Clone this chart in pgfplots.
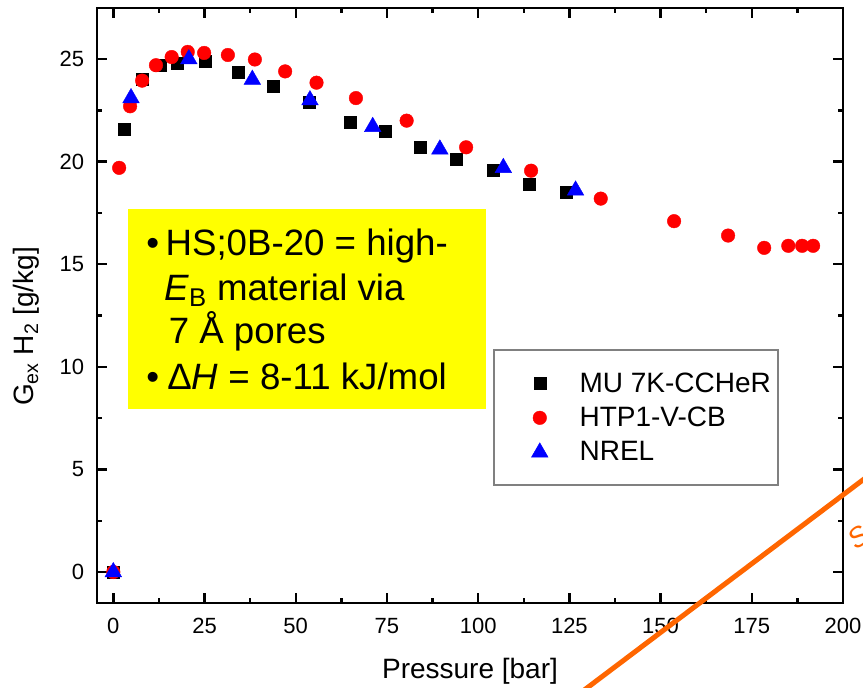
\documentclass[border=0pt]{standalone}
\usepackage{fontspec}
\setmainfont{Liberation Sans}
\usepackage{pgfplots}
\pgfplotsset{compat=1.18}

\definecolor{ptred}{RGB}{255,0,0}
\definecolor{ptblue}{RGB}{0,0,255}
\definecolor{slideorange}{RGB}{255,102,0}
\definecolor{noteyellow}{RGB}{255,255,0}
\newcommand\notefont{\fontsize{27.5}{33}\selectfont}

\begin{document}
\begin{tikzpicture}
\useasboundingbox (0,0) rectangle (647.25pt,515.25pt);

\begin{axis}[
  at={(72.75pt,63pt)}, anchor=south west,
  width=559.5pt, height=446.25pt, scale only axis,
  xmin=-4.47, xmax=200, ymin=-1.51, ymax=27.49,
  xtick={0,25,...,200}, ytick={0,5,...,25},
  minor x tick num=1, minor y tick num=1,
  tick align=inside,
  major tick length=7.5pt, minor tick length=3.75pt,
  axis line style={line width=2.2pt},
  tick style={line width=1.8pt, black},
  /pgf/number format/assume math mode=true,
  tick label style={font=\fontsize{16.5}{16.5}\selectfont, inner sep=0pt},
  xticklabel style={anchor=base, yshift=-22.7pt},
  yticklabel style={anchor=east, xshift=-9.4pt},
  xlabel={Pressure [bar]},
  ylabel={G\textsubscript{ex} H\textsubscript{2} [g/kg]},
  label style={font=\fontsize{21}{21}\selectfont, inner sep=0pt},
  xlabel style={at={(axis description cs:0.5,0)}, anchor=base, yshift=-56.5pt},
  ylabel style={at={(axis description cs:-0.0942,0.4647)}, anchor=center},
  legend cell align=left,
  legend image code/.code={\draw[#1] plot coordinates {(0pt,0pt)};},
  legend style={draw=none, fill=none, at={(0.5824,0.3983)}, anchor=north west,
    inner sep=0pt, outer sep=0pt, row sep=0pt, column sep=23.6pt,
    font=\fontsize{21}{21}\selectfont,
    nodes={inner sep=0pt, minimum height=25.9pt}},
]

% MU 7K-CCHeR
\addplot[only marks, mark=square*, mark size=4.5pt, black, mark options={line width=0.3pt}]
coordinates {
 (0,0) (2.9,21.6) (7.8,24.0) (12.8,24.7) (17.5,24.8) (25.1,24.9)
 (34.3,24.35) (43.8,23.7) (53.6,22.9) (64.9,21.9) (74.5,21.5)
 (84.0,20.7) (93.9,20.1) (104.0,19.6) (113.9,18.9) (124.1,18.5)
};
\addlegendentry{MU 7K-CCHeR}

% HTP1-V-CB
\addplot[only marks, mark=*, mark size=5.1pt, ptred, mark options={line width=0.3pt}]
coordinates {
 (0,0) (1.6,19.7) (4.6,22.7) (7.9,23.95) (11.7,24.7) (16.0,25.1)
 (20.4,25.35) (24.9,25.3) (31.4,25.2) (38.8,24.98) (47.1,24.4)
 (55.7,23.85) (66.5,23.1) (80.4,22.0) (96.7,20.7) (114.5,19.56)
 (133.6,18.2) (153.7,17.1) (168.5,16.4) (178.4,15.8) (185.0,15.9)
 (188.8,15.9) (191.8,15.9)
};
\addlegendentry{HTP1-V-CB}

% NREL
\addplot[only marks, mark=triangle*, mark size=7.2pt, ptblue, mark options={line width=0.3pt}]
coordinates {
 (0,0) (4.85,23.1) (20.7,25.0) (38.1,24.0) (53.9,23.0) (71.1,21.7)
 (89.5,20.6) (106.9,19.7) (126.7,18.6)
};
\addlegendentry{NREL}
\end{axis}

% legend frame
\draw[gray, line width=1.1pt] (370.5pt,252.75pt) rectangle (583.5pt,151.5pt);

% highlighted note
\fill[noteyellow] (96.2pt,358.3pt) rectangle (364.3pt,208.3pt);
\node[anchor=base west, inner sep=0pt, font=\notefont] at (109.5pt,324pt) {•};
\node[anchor=base west, inner sep=0pt, font=\notefont] at (124pt,324pt) {HS;0B-20 = high-};
\node[anchor=base west, inner sep=0pt, font=\notefont] at (123pt,290.25pt) {\textit{E}\textsubscript{B} material via};
\node[anchor=base west, inner sep=0pt, font=\notefont] at (126.4pt,257.8pt) {7 Å pores};
\node[anchor=base west, inner sep=0pt, font=\notefont] at (109.5pt,223.5pt) {•};
\node[anchor=base west, inner sep=0pt, font=\notefont] at (125.25pt,223.5pt) {Δ\textit{H} = 8-11 kJ/mol};

% slide arrow and its caption
\draw[slideorange, line width=3.75pt] (429pt,-9.2pt) -- (660pt,165pt);
\node[slideorange, rotate=36, font=\fontsize{21}{21}\selectfont\itshape, inner sep=0pt] at (643.5pt,112.5pt) {S};
\end{tikzpicture}
\end{document}
